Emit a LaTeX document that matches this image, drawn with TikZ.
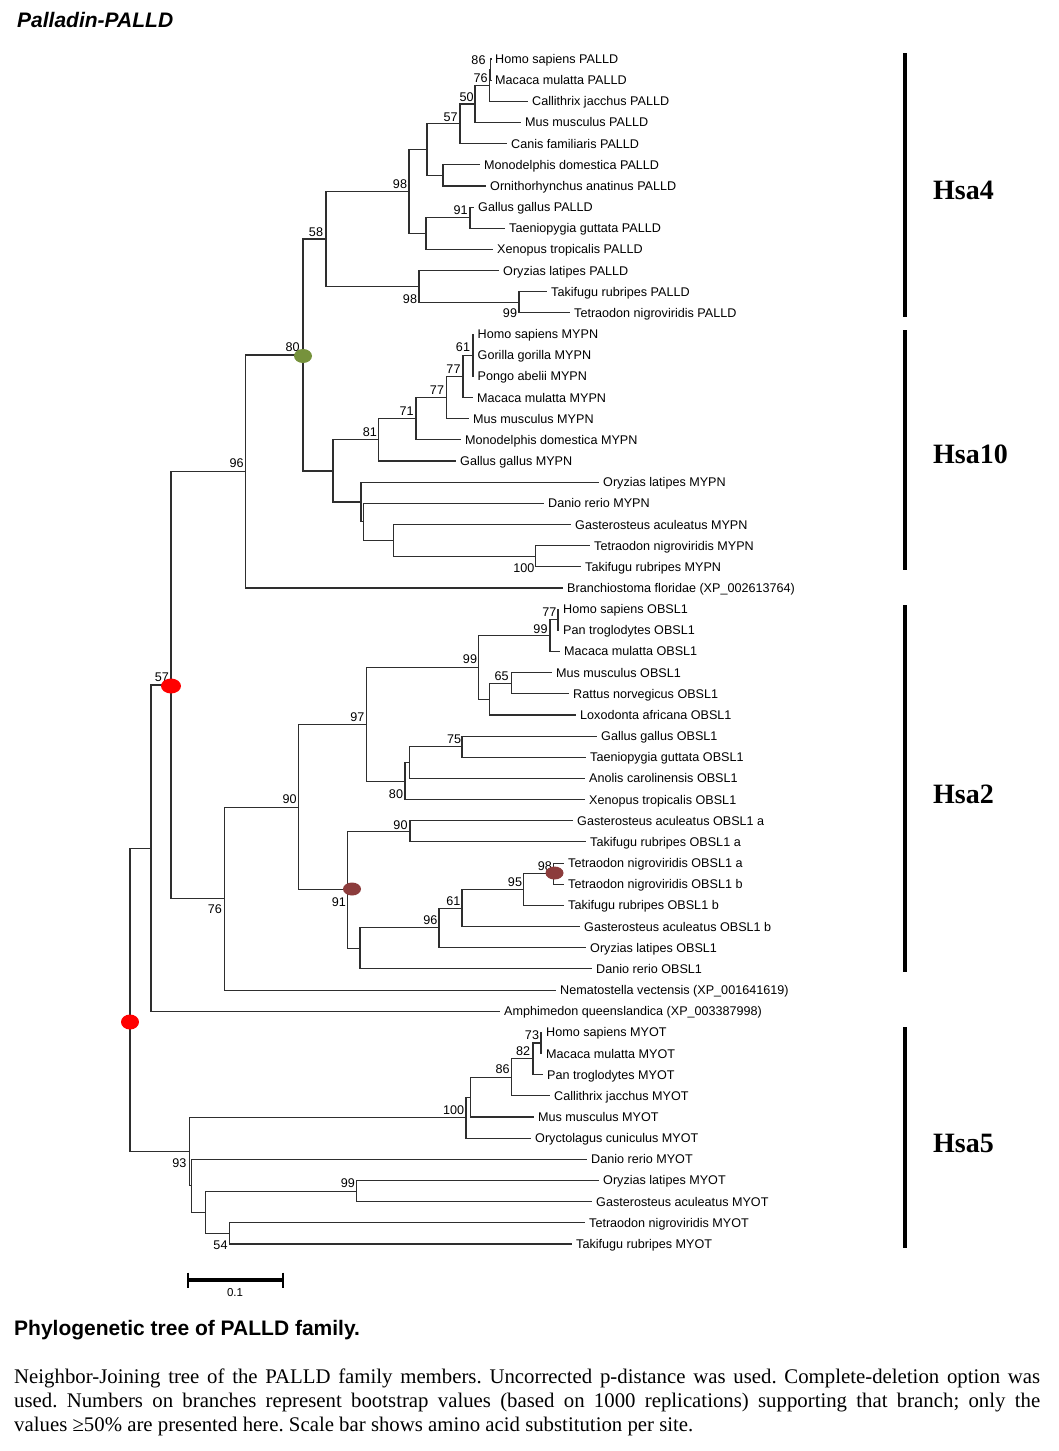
\documentclass[tikz,border=0pt]{standalone}
\usepackage{fontspec}
\usetikzlibrary{shapes.geometric}
\setmainfont{Liberation Serif}
\newfontfamily\sansf{Liberation Sans}
\newcommand{\leaffont}{\sansf\fontsize{12.6}{14}\selectfont}
\definecolor{dotgreen}{RGB}{118,146,60}
\definecolor{dotred}{RGB}{255,0,0}
\definecolor{dotbrown}{RGB}{140,60,60}
\frenchspacing
\tikzset{
  br/.style={line width=1.1pt, draw=black!82},
  leaf/.style={anchor=west, inner xsep=4pt, inner ysep=0pt, text height=9pt, text depth=0pt, font=\leaffont},
  bs/.style={inner sep=0pt, text height=9pt, text depth=0pt, font=\leaffont},
  grp/.style={line width=3.5pt, draw=black},
  grplab/.style={anchor=base west, inner sep=0pt, font=\rmfamily\bfseries\fontsize{28}{30}\selectfont},
  dotmark/.style={ellipse, inner sep=0pt, draw=none, minimum width=18pt, minimum height=14pt},
  para/.style={anchor=base west, inner sep=0pt, font=\rmfamily\fontsize{20.8}{24}\selectfont}
}
\begin{document}
\begin{tikzpicture}[x=1pt,y=-1pt]
\fill[white] (0,0) rectangle (1058,1451);
\useasboundingbox (0,0) rectangle (1058,1451);

\node[anchor=base west, inner sep=0pt, font=\sansf\bfseries\itshape\fontsize{21}{24}\selectfont] (title) at (17,27.5) {Palladin-PALLD};

\begin{scope}[yshift=-59pt, y=-21.16pt]
\foreach \tip/\t [count=\i from 0] in {
491/Homo sapiens PALLD,
491/Macaca mulatta PALLD,
528/Callithrix jacchus PALLD,
521/Mus musculus PALLD,
507/Canis familiaris PALLD,
480/Monodelphis domestica PALLD,
486/Ornithorhynchus anatinus PALLD,
474/Gallus gallus PALLD,
505/Taeniopygia guttata PALLD,
493/Xenopus tropicalis PALLD,
499/Oryzias latipes PALLD,
547/Takifugu rubripes PALLD,
570/Tetraodon nigroviridis PALLD,
473.5/Homo sapiens MYPN,
473.5/Gorilla gorilla MYPN,
473.5/Pongo abelii MYPN,
473/Macaca mulatta MYPN,
469/Mus musculus MYPN,
461/Monodelphis domestica MYPN,
456/Gallus gallus MYPN,
599/Oryzias latipes MYPN,
544/Danio rerio MYPN,
571/Gasterosteus aculeatus MYPN,
590/Tetraodon nigroviridis MYPN,
581/Takifugu rubripes MYPN,
563/Branchiostoma floridae (XP\_002613764),
559/Homo sapiens OBSL1,
559/Pan troglodytes OBSL1,
560/Macaca mulatta OBSL1,
552/Mus musculus OBSL1,
569/Rattus norvegicus OBSL1,
576/Loxodonta africana OBSL1,
597/Gallus gallus OBSL1,
586/Taeniopygia guttata OBSL1,
585/Anolis carolinensis OBSL1,
585/Xenopus tropicalis OBSL1,
573/Gasterosteus aculeatus OBSL1 a,
586/Takifugu rubripes OBSL1 a,
564/Tetraodon nigroviridis OBSL1 a,
564/Tetraodon nigroviridis OBSL1 b,
564/Takifugu rubripes OBSL1 b,
580/Gasterosteus aculeatus OBSL1 b,
586/Oryzias latipes OBSL1,
592/Danio rerio OBSL1,
556/Nematostella vectensis (XP\_001641619),
500/Amphimedon queenslandica (XP\_003387998),
542/Homo sapiens MYOT,
542/Macaca mulatta MYOT,
543/Pan troglodytes MYOT,
550/Callithrix jacchus MYOT,
534/Mus musculus MYOT,
531/Oryctolagus cuniculus MYOT,
587/Danio rerio MYOT,
599/Oryzias latipes MYOT,
592/Gasterosteus aculeatus MYOT,
585/Tetraodon nigroviridis MYOT,
572/Takifugu rubripes MYOT}
  \node[leaf] (L\i) at (\tip,\i) {\t};

% internal nodes: (x px, row)
\coordinate (p86) at (490.5,0.5);
\coordinate (p76) at (489.5,1.25);
\coordinate (p50) at (475,2.125);
\coordinate (p57) at (460,3.0625);
\coordinate (pMono) at (443,5.5);
\coordinate (pEuth) at (427,4.28125);
\coordinate (p91) at (470,7.5);
\coordinate (pTet) at (426,8.25);
\coordinate (p98) at (409,6.2656);
\coordinate (p99) at (519,11.5);
\coordinate (p98b) at (419,10.75);
\coordinate (p58) at (326,8.5078);
\coordinate (m61) at (473,14);
\coordinate (m77b) at (463,15);
\coordinate (m77a) at (446.6,16);
\coordinate (m71) at (416,17);
\coordinate (m81) at (378.5,18);
\coordinate (m100) at (535.5,23.5);
\coordinate (mGast) at (393.7,22.75);
\coordinate (mDan) at (363.3,21.875);
\coordinate (mFish) at (361,20.9375);
\coordinate (mRoot) at (333,19.4688);
\coordinate (n80) at (303,13.988);
\coordinate (n96) at (245.4,19.494);
\coordinate (o77) at (558,26.5);
\coordinate (o99a) at (550,27.25);
\coordinate (o65) at (511.4,29.5);
\coordinate (oRod) at (489.4,30.25);
\coordinate (o99b) at (478.8,28.75);
\coordinate (o75) at (462,32.5);
\coordinate (oAno) at (409.3,33.25);
\coordinate (o80) at (405,34.125);
\coordinate (o97) at (366.6,31.4375);
\coordinate (o90b) at (410,36.5);
\coordinate (o98) at (553.7,38.5);
\coordinate (o95) at (523.7,39.25);
\coordinate (o61) at (462,40.125);
\coordinate (o96) at (439,41.0625);
\coordinate (oDan) at (360,42.0313);
\coordinate (o91) at (347.7,39.2656);
\coordinate (o90) at (298.4,35.3516);
\coordinate (o76) at (224.4,39.6758);
\coordinate (n57) at (171,29.585);
\coordinate (nSp) at (151,37.2925);
\coordinate (t73) at (541,46.5);
\coordinate (t82) at (533,47.25);
\coordinate (t86) at (511.6,48.125);
\coordinate (tMus) at (470.5,49.0625);
\coordinate (t100) at (466,50.0313);
\coordinate (t99) at (356.7,53.5);
\coordinate (t54) at (229.5,55.5);
\coordinate (tFish) at (205.8,54.5);
\coordinate (tDan) at (191.5,53.25);
\coordinate (t93) at (189.3,51.6406);
\coordinate (root) at (130,44.466);
\end{scope}

% branches to leaves
\foreach \p/\c in {p86/L0,p86/L1,p76/L2,p50/L3,p57/L4,pMono/L5,pMono/L6,p91/L7,p91/L8,pTet/L9,
  p98b/L10,p99/L11,p99/L12,m61/L13,m61/L14,m61/L15,m77b/L16,m77a/L17,m71/L18,m81/L19,
  mFish/L20,mDan/L21,mGast/L22,m100/L23,m100/L24,n96/L25,o77/L26,o77/L27,o99a/L28,
  o65/L29,o65/L30,oRod/L31,o75/L32,o75/L33,oAno/L34,o80/L35,o90b/L36,o90b/L37,
  o98/L38,o98/L39,o95/L40,o61/L41,o96/L42,oDan/L43,o76/L44,nSp/L45,t73/L46,t73/L47,
  t82/L48,t86/L49,tMus/L50,t100/L51,tDan/L52,t99/L53,t99/L54,t54/L55,t54/L56}
  \draw[br] (\p) |- (\c.west);
% branches between internal nodes
\foreach \p/\c in {p76/p86,p50/p76,p57/p50,pEuth/p57,pEuth/pMono,pTet/p91,p98/pEuth,p98/pTet,
  p98b/p99,p58/p98,p58/p98b,m77b/m61,m77a/m77b,m71/m77a,m81/m71,mGast/m100,mDan/mGast,
  mFish/mDan,mRoot/m81,mRoot/mFish,n80/p58,n80/mRoot,n96/n80,o99a/o77,oRod/o65,o99b/o99a,
  o99b/oRod,oAno/o75,o80/oAno,o97/o99b,o97/o80,o95/o98,o61/o95,o96/o61,oDan/o96,o91/o90b,
  o91/oDan,o90/o97,o90/o91,o76/o90,n57/n96,n57/o76,nSp/n57,t82/t73,t86/t82,tMus/t86,
  t100/tMus,tFish/t99,tFish/t54,tDan/tFish,t93/t100,t93/tDan,root/nSp,root/t93}
  \draw[br] (\p) |- (\c);

% bootstrap values
\foreach \x/\y/\t [count=\i] in {
478.5/60/86, 480.7/78/76, 466.7/96.7/50, 450.7/117/57, 400/184/98, 460.7/210/91, 316/231.5/58,
410/299/98, 510/313.3/99,
292.6/347/80, 463/347/61, 453.5/368.5/77, 437/390/77, 406.7/411/71, 369.8/432/81, 236.7/463.3/96,
523.8/568/100,
549.3/611.5/77, 540.5/628.5/99, 470/659/99, 501.7/676/65, 162/677/57, 357.4/716.7/97, 454.2/739.3/75,
396/794/80, 289.6/799/90,
400.5/825/90, 544.9/865.5/98, 515/882/95, 338.9/901.7/91, 453.3/901/61, 214.8/909.3/76, 430.4/920/96,
532/1035/73, 523.2/1051/82, 502.7/1069/86, 453.6/1110/100, 179.5/1163.3/93, 347.8/1183.3/99, 220.5/1245/54}
  \node[bs] (bs\i) at (\x,\y) {\t};

% marker dots
\node[dotmark, fill=dotgreen] (dg) at (303,356) {};
\node[dotmark, fill=dotred, minimum width=20pt, minimum height=15pt] (dr1) at (171,686) {};
\node[dotmark, fill=dotred, minimum height=15pt] (dr2) at (130,1022) {};
\node[dotmark, fill=dotbrown, minimum height=13pt] (db1) at (352,889) {};
\node[dotmark, fill=dotbrown, minimum height=13pt] (db2) at (554.5,873) {};

% group bars and labels
\draw[grp] (905,53) -- (905,317);
\draw[grp] (905,330) -- (905,570);
\draw[grp] (905,605) -- (905,972);
\draw[grp] (905,1027) -- (905,1248);
\node[grplab] (g4) at (933,199) {Hsa4};
\node[grplab] (g10) at (933,463) {Hsa10};
\node[grplab] (g2) at (933,803) {Hsa2};
\node[grplab] (g5) at (933,1152) {Hsa5};

% scale bar
\draw[line width=3.5pt] (188,1280) -- (283,1280);
\draw[line width=2.5pt] (188,1272.5) -- (188,1287.5);
\draw[line width=2.5pt] (283,1272.5) -- (283,1287.5);
\node[inner sep=0pt, font=\sansf\fontsize{11.5}{13}\selectfont] (sc) at (235,1293) {0.1};

% caption
\node[anchor=base west, inner sep=0pt, font=\sansf\bfseries\fontsize{21}{24}\selectfont] (cap) at (14,1335) {Phylogenetic tree of PALLD family.};
\node[para] (pl1) at (14,1383) {\makebox[1026pt][s]{Neighbor-Joining tree of the PALLD family members. Uncorrected p-distance was used. Complete-deletion option was}};
\node[para] (pl2) at (14,1407) {\makebox[1026pt][s]{used. Numbers on branches represent bootstrap values (based on 1000 replications) supporting that branch; only the}};
\node[para] (pl3) at (14,1431) {values ≥50\% are presented here. Scale bar shows amino acid substitution per site.};
\end{tikzpicture}
\end{document}
